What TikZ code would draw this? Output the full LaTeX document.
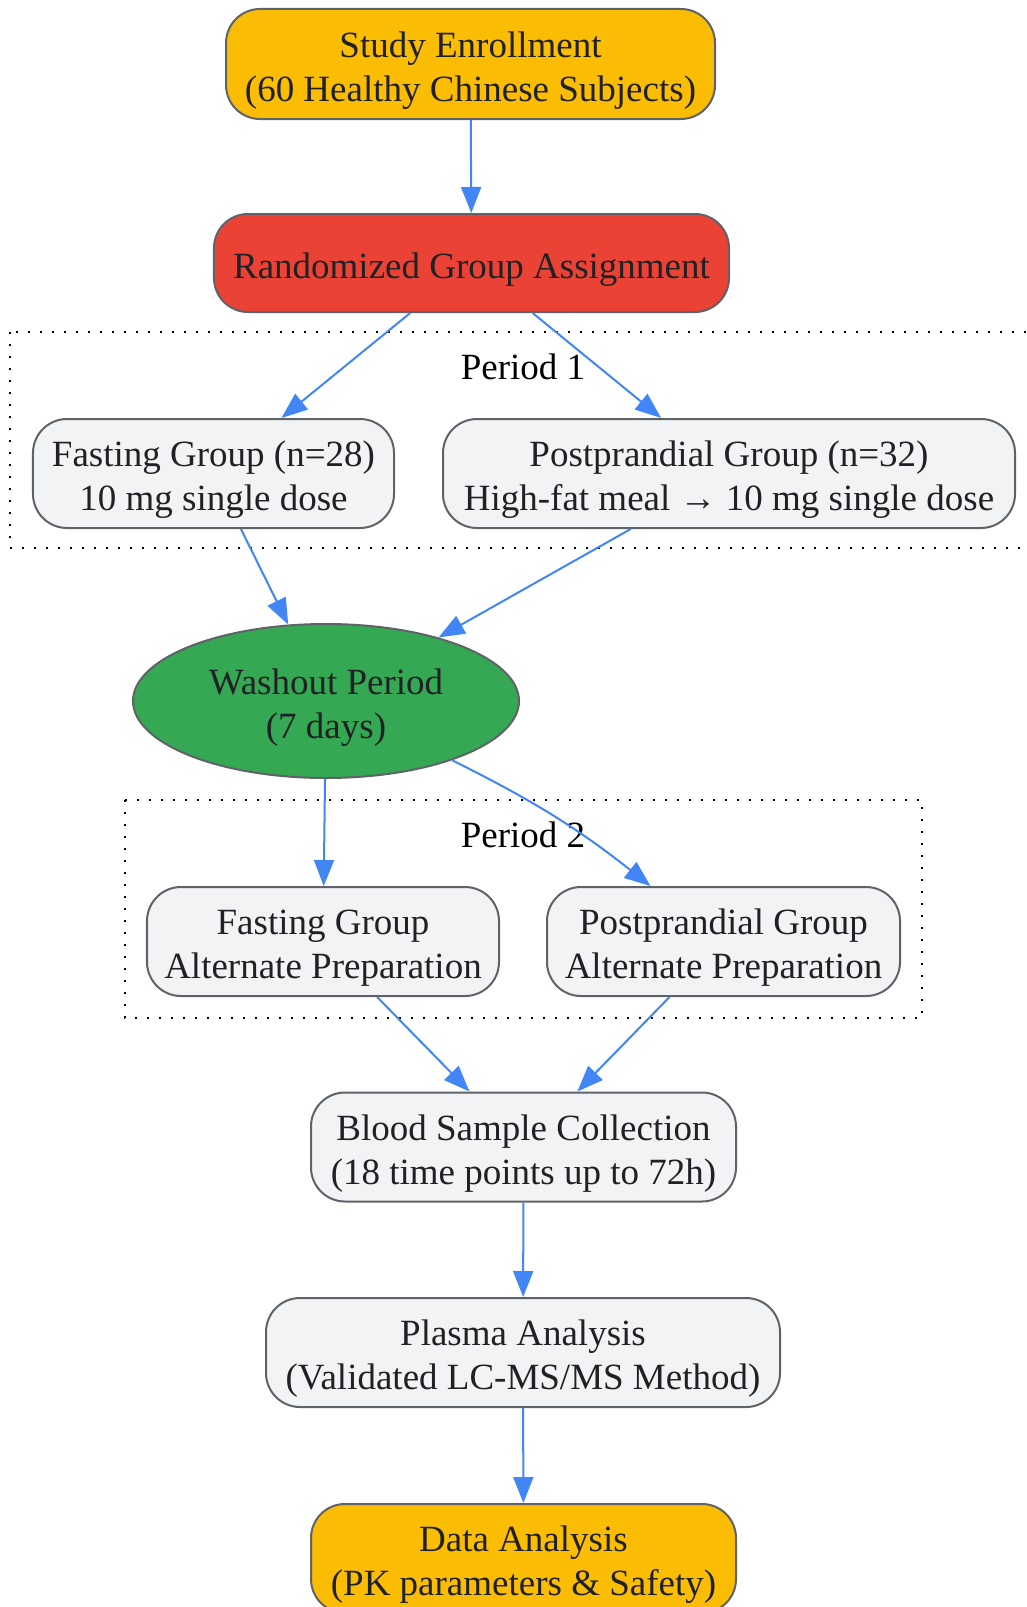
\documentclass[tikz,border=0pt]{standalone}
\usepackage{fontspec}
\setmainfont{Liberation Serif}
\usetikzlibrary{arrows.meta,shapes.geometric}
\definecolor{gyellow}{HTML}{FBBC04}
\definecolor{gred}{HTML}{EA4335}
\definecolor{ggreen}{HTML}{34A853}
\definecolor{ggray}{HTML}{F1F3F4}
\definecolor{gborder}{HTML}{5F6368}
\definecolor{gblue}{HTML}{4285F4}
\definecolor{gtext}{HTML}{202124}
\newcommand{\topstrutx}{\rule{0pt}{38bp}}
\begin{document}
\begin{tikzpicture}[x=1bp,y=-1bp,
  base/.style={draw=gborder, line width=2bp, align=center, text=gtext,
    font=\fontsize{37bp}{44bp}\selectfont, inner sep=0pt},
  box/.style={base, rectangle, rounded corners=34bp, fill=ggray, minimum height=109bp},
  cluster/.style={draw=black, line width=2bp, dash pattern=on 2bp off 10bp},
  clabel/.style={font=\fontsize{37bp}{44bp}\selectfont, text=black, inner sep=0pt},
  arr/.style={-{Triangle[length=26bp,width=20bp]}, draw=gblue, line width=2bp}]
\useasboundingbox (0,0) rectangle (1026,1607);
% clusters
\draw[cluster] (10,332) rectangle (1034,548);
\node[clabel] (p1lab) at (523,367) {Period 1};
\draw[cluster] (125,800) rectangle (922,1018);
\node[clabel] (p2lab) at (523,835) {Period 2};
% nodes
\node[box, fill=gyellow, minimum width=489bp, minimum height=110bp] (enroll) at (470.5,64)
  {\topstrutx Study Enrollment\\(60 Healthy Chinese Subjects)};
\node[box, fill=gred, minimum width=515bp, minimum height=98bp] (rand) at (471.5,263)
  {\topstrutx Randomized Group Assignment};
\node[box, minimum width=361bp] (fast1) at (213.5,473.5)
  {\topstrutx Fasting Group (n=28)\\10 mg single dose};
\node[box, minimum width=572bp] (post1) at (729,473.5)
  {\topstrutx Postprandial Group (n=32)\\High-fat meal → 10 mg single dose};
\node[base, ellipse, fill=ggreen, minimum width=386bp, minimum height=154bp] (wash) at (326,701)
  {\topstrutx Washout Period\\(7 days)};
\node[box, minimum width=352bp] (fast2) at (323,941.5)
  {\topstrutx Fasting Group\\Alternate Preparation};
\node[box, minimum width=353bp] (post2) at (723.5,941.5)
  {\topstrutx Postprandial Group\\Alternate Preparation};
\node[box, minimum width=425bp] (blood) at (523.5,1147)
  {\topstrutx Blood Sample Collection\\(18 time points up to 72h)};
\node[box, minimum width=514bp] (plasma) at (523,1352.5)
  {\topstrutx Plasma Analysis\\(Validated LC-MS/MS Method)};
\node[box, fill=gyellow, minimum width=425bp] (data) at (523.5,1558.5)
  {\topstrutx Data Analysis\\(PK parameters \& Safety)};
% edges
\draw[arr] (enroll) -- (rand);
\draw[arr] (rand) -- (fast1);
\draw[arr] (rand) -- (post1);
\draw[arr] (fast1) -- (wash);
\draw[arr] (post1) -- (wash);
\draw[arr] (wash) -- (fast2);
\draw[arr] (wash) to[bend left=6] (post2);
\draw[arr] (fast2) -- (blood);
\draw[arr] (post2) -- (blood);
\draw[arr] (blood) -- (plasma);
\draw[arr] (plasma) -- (data);
\end{tikzpicture}
\end{document}
